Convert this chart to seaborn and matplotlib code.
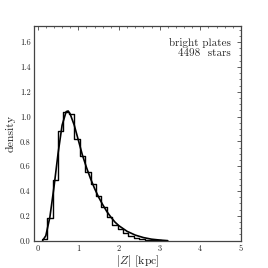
import matplotlib
matplotlib.use("Agg")
import matplotlib.pyplot as plt
import seaborn as sns
import numpy as np
from matplotlib.ticker import MultipleLocator

sns.set_theme(style="white")
plt.rcParams['font.family'] = ['cmr10', 'DejaVu Serif']
plt.rcParams['mathtext.fontset'] = 'cm'
plt.rcParams['axes.unicode_minus'] = False
plt.rcParams['axes.formatter.use_mathtext'] = True

# histogram bins (kpc) and densities
bin_edges = [0.10, 0.233, 0.366, 0.50, 0.633, 0.766, 0.90, 1.033, 1.166, 1.30,
             1.433, 1.566, 1.70, 1.833, 1.966, 2.10, 2.233, 2.366, 2.50, 2.633,
             2.766, 2.90, 3.033]
hist_density = [0.01, 0.18, 0.49, 0.88, 1.04, 1.02, 0.82, 0.68, 0.55, 0.46,
                0.36, 0.27, 0.19, 0.13, 0.09, 0.06, 0.035, 0.02, 0.012, 0.006,
                0.003, 0.002]

# model curve
curve_z = [0.12, 0.2, 0.3, 0.4, 0.5, 0.6, 0.7, 0.75, 0.8, 0.9, 1.0, 1.1, 1.2,
           1.3, 1.4, 1.5, 1.6, 1.7, 1.8, 1.9, 2.0, 2.2, 2.4, 2.6, 2.8, 3.0, 3.2]
curve_density = [0.0, 0.04, 0.19, 0.43, 0.70, 0.93, 1.04, 1.045, 1.02, 0.93,
                 0.81, 0.69, 0.59, 0.50, 0.42, 0.35, 0.29, 0.235, 0.19, 0.15,
                 0.12, 0.075, 0.045, 0.025, 0.012, 0.005, 0.0]

label_lines = ["bright plates", "4498  stars"]

fig = plt.figure(figsize=(2.68, 2.68), dpi=100)
ax = fig.add_axes([0.127, 0.102, 0.772, 0.801])

centers = [(bin_edges[i] + bin_edges[i + 1]) / 2 for i in range(len(hist_density))]
sns.histplot(x=centers, weights=hist_density, bins=bin_edges, element="step",
             fill=False, color="black", linewidth=1.0, ax=ax)
sns.lineplot(x=curve_z, y=curve_density, color="black", linewidth=1.2, ax=ax)

ax.set_xlim(-0.09, 5)
ax.set_ylim(0, 1.73)
ax.xaxis.set_major_locator(MultipleLocator(1))
ax.xaxis.set_minor_locator(MultipleLocator(0.2))
ax.yaxis.set_major_locator(MultipleLocator(0.2))
ax.yaxis.set_minor_locator(MultipleLocator(0.05))
ax.set_xticks([0, 1, 2, 3, 4, 5])
ax.set_xticklabels(["0", "1", "2", "3", "4", "5"])
yt = [0.0, 0.2, 0.4, 0.6, 0.8, 1.0, 1.2, 1.4, 1.6]
ax.set_yticks(yt)
ax.set_yticklabels([f"{v:.1f}" for v in yt])
ax.tick_params(which="both", direction="in", top=True, right=True,
               labelsize=6, pad=2.5, color="#444444")
ax.tick_params(which="major", length=3, width=0.6)
ax.tick_params(which="minor", length=1.5, width=0.5)
for s in ax.spines.values():
    s.set_color("#444444")
    s.set_linewidth(0.9)

ax.set_xlabel(r"$|Z|$ [kpc]", fontsize=8.5, labelpad=0)
ax.set_ylabel("density", fontsize=8.5, labelpad=3)
ax.text(0.95, 0.945, "\n".join(label_lines), transform=ax.transAxes,
        ha="right", va="top", fontsize=8, linespacing=1.05)

fig.savefig("out.png", dpi=100)
